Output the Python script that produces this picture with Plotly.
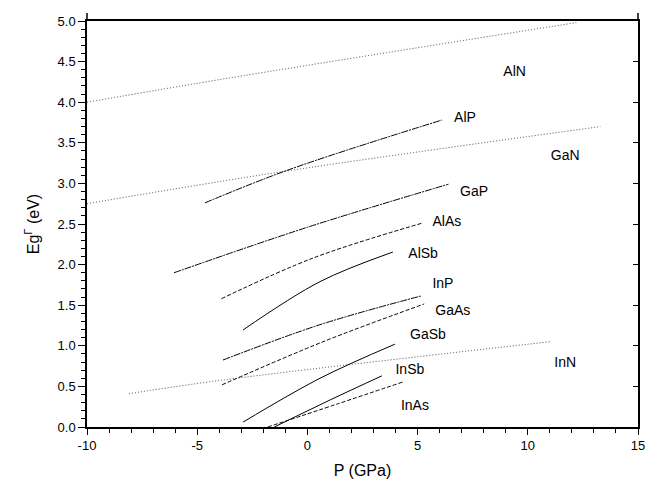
import plotly.graph_objects as go

# Data: P in GPa, Eg in eV
names = ["AlN", "GaN", "InN", "AlP", "GaP", "AlAs", "AlSb", "InP", "GaAs", "GaSb", "InSb", "InAs"]
p_vals = {
    "AlN": [-10.0, -3.5, 12.2],
    "GaN": [-10.0, -1.0, 13.3],
    "InN": [-8.1, -3.8, 11.0],
    "AlP": [-4.65, -0.93, 6.1],
    "GaP": [-6.05, 0.0, 6.4],
    "AlAs": [-3.9, 0.25, 5.2],
    "AlSb": [-2.92, 0.57, 3.88],
    "InP": [-3.83, 0.57, 5.15],
    "GaAs": [-3.87, 0.71, 5.3],
    "GaSb": [-2.92, 0.57, 3.97],
    "InSb": [-1.5, 1.03, 3.38],
    "InAs": [-1.8, 1.35, 4.34],
}
eg_vals = {
    "AlN": [4.0, 4.30, 4.98],
    "GaN": [2.75, 3.15, 3.70],
    "InN": [0.41, 0.58, 1.05],
    "AlP": [2.76, 3.16, 3.78],
    "GaP": [1.90, 2.46, 2.99],
    "AlAs": [1.58, 2.08, 2.51],
    "AlSb": [1.195, 1.79, 2.155],
    "InP": [0.825, 1.26, 1.613],
    "GaAs": [0.52, 1.05, 1.515],
    "GaSb": [0.06, 0.60, 1.02],
    "InSb": [0.0, 0.333, 0.63],
    "InAs": [0.0, 0.283, 0.555],
}
label_x = [9.4, 11.7, 11.7, 7.15, 7.56, 6.33, 5.25, 6.15, 6.6, 5.47, 4.65, 4.88]
label_y = [4.36, 3.33, 0.78, 3.80, 2.89, 2.52, 2.12, 1.75, 1.42, 1.13, 0.69, 0.25]

x_tickvals = [-10, -5, 0, 5, 10, 15]
x_ticktext = ["-10", "-5", "0", "5", "10", "15"]
y_tickvals = [0, 0.5, 1, 1.5, 2, 2.5, 3, 3.5, 4, 4.5, 5]
y_ticktext = ["0.0", "0.5", "1.0", "1.5", "2.0", "2.5", "3.0", "3.5", "4.0", "4.5", "5.0"]

dotted = "1px,2px"
dashdot = "7px,1px,2px,1px"
dashed = "4px,2px"
styles = {
    "AlN": (dotted, "#444"), "GaN": (dotted, "#444"), "InN": (dotted, "#444"),
    "AlP": (dashdot, "black"), "GaP": (dashdot, "black"), "InP": (dashdot, "black"),
    "AlAs": (dashed, "black"), "GaAs": (dashed, "black"), "InAs": (dashed, "black"),
    "AlSb": ("solid", "black"), "GaSb": ("solid", "black"), "InSb": ("solid", "black"),
}

FONT = "Liberation Sans, Arial, sans-serif"
fig = go.Figure()
for n in names:
    dash, col = styles[n]
    fig.add_trace(go.Scatter(x=p_vals[n], y=eg_vals[n], mode="lines",
                             line=dict(color=col, width=1, dash=dash, shape="spline", smoothing=1.0),
                             showlegend=False, hoverinfo="skip"))

fig.add_trace(go.Scatter(x=label_x, y=label_y, mode="text", text=names,
                         textfont=dict(family=FONT, size=14, color="black"),
                         showlegend=False, hoverinfo="skip"))

# invisible trace for the right axis
fig.add_trace(go.Scatter(x=[-10], y=[0], yaxis="y2", mode="markers",
                         marker=dict(opacity=0), showlegend=False, hoverinfo="skip"))

# small overshoot of the vertical frame lines above the top
for xp in (0, 1):
    fig.add_shape(type="line", xref="paper", yref="paper", x0=xp, x1=xp, y0=1, y1=1.02,
                  line=dict(color="black", width=1.5))

fig.update_layout(
    width=647, height=483,
    margin=dict(l=87, r=9, t=21, b=56, autoexpand=False),
    paper_bgcolor="white", plot_bgcolor="white",
    font=dict(family=FONT, color="black", size=13),
    xaxis=dict(range=[-10, 15], tickvals=x_tickvals, ticktext=x_ticktext,
               ticks="outside", ticklen=6, tickwidth=1, tickcolor="black",
               minor=dict(dtick=1, ticks="outside", ticklen=4, tickcolor="black"),
               showline=True, linecolor="black", linewidth=1.5, mirror=True,
               showgrid=False, zeroline=False, automargin=False,
               ticklabeloverflow="allow",
               tickfont=dict(size=13),
               title=dict(text="P (GPa)", font=dict(size=16), standoff=12)),
    yaxis=dict(range=[0, 5], tickvals=y_tickvals, ticktext=y_ticktext,
               ticks="outside", ticklen=7, tickwidth=1, tickcolor="black",
               minor=dict(dtick=0.1, ticks="outside", ticklen=4, tickcolor="black"),
               showline=True, linecolor="black", linewidth=1.5,
               showgrid=False, zeroline=False, automargin=False,
               tickfont=dict(size=13),
               title=dict(text="Eg<sup>Γ</sup> (eV)", font=dict(size=16), standoff=14)),
    yaxis2=dict(range=[0, 5], overlaying="y", side="right", dtick=0.5,
                ticks="inside", ticklen=5, tickcolor="black", showticklabels=False,
                showline=True, linecolor="black", linewidth=1.5, automargin=False,
                showgrid=False, zeroline=False),
)

fig.write_html("out.html", config={"displayModeBar": False},
               post_script="document.body.style.margin='0px';document.body.style.overflow='hidden';")
